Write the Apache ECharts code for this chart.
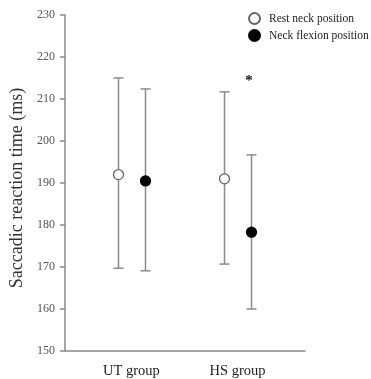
<!DOCTYPE html>
<html>
<head>
<meta charset="utf-8">
<script src="https://cdn.jsdelivr.net/npm/echarts@6/dist/echarts.min.js"></script>
<style>
  html, body { margin: 0; padding: 0; background: #fff; }
  #chart { width: 371px; height: 379px; }
</style>
</head>
<body>
<div id="chart"></div>
<script>
// groups and where they sit on the (hidden) 0-100 x scale
const groups = ['UT group', 'HS group']
const groupPos = [27.7, 71.9]
const yTicks = [150, 160, 170, 180, 190, 200, 210, 220, 230]

// mean, lower and upper end of the bars (ms)
const restMean = [192.0, 191.0]
const restLow = [169.7, 170.7]
const restHigh = [215.0, 211.7]
const flexMean = [190.5, 178.3]
const flexLow = [169.1, 160.0]
const flexHigh = [212.4, 196.7]

// significance mark above HS flexion
const starGroup = 1
const starValue = 215.3

const serif = '"Liberation Serif", "DejaVu Serif", serif'
const OFFSET = 13.5 // px either side of the group centre

function barSeries(name, means, lows, highs, dx, fill, stroke) {
  return {
    name: name,
    type: 'custom',
    itemStyle: { color: fill, borderColor: stroke, borderWidth: 1.3 },
    data: means.map((m, i) => [groupPos[i], m, lows[i], highs[i]]),
    encode: { x: 0, y: [1, 2, 3] },
    z: 3,
    renderItem: function (params, api) {
      const p = api.coord([api.value(0), api.value(1)])
      const lo = api.coord([api.value(0), api.value(2)])
      const hi = api.coord([api.value(0), api.value(3)])
      const x = Math.round(p[0] + dx) + 0.5
      const line = { stroke: '#8a8a8a', lineWidth: 1.5 }
      return {
        type: 'group',
        children: [
          { type: 'line', shape: { x1: x, y1: hi[1], x2: x, y2: lo[1] }, style: line },
          { type: 'line', shape: { x1: x - 5, y1: hi[1], x2: x + 5, y2: hi[1] }, style: line },
          { type: 'line', shape: { x1: x - 5, y1: lo[1], x2: x + 5, y2: lo[1] }, style: line },
          {
            type: 'circle', z2: 10,
            shape: { cx: x, cy: p[1], r: 5 },
            style: { fill: fill, stroke: stroke, lineWidth: 1.3 }
          }
        ]
      }
    }
  }
}

const chart = echarts.init(document.getElementById('chart'), null, { renderer: 'canvas' })
chart.setOption({
  animation: false,
  grid: { left: 63, right: 66, top: 15, bottom: 27 },
  legend: {
    orient: 'vertical',
    left: 243, top: 7,
    itemWidth: 11, itemHeight: 11, itemGap: 4,
    icon: 'circle',
    textStyle: { fontFamily: serif, fontSize: 11.5, color: '#222', padding: [0, 0, 0, 4] },
    data: ['Rest neck position', 'Neck flexion position']
  },
  xAxis: {
    type: 'value', min: 0, max: 100,
    splitLine: { show: false },
    axisLine: { lineStyle: { color: '#8a8a8a', width: 1.5 } },
    axisTick: { show: false },
    axisLabel: {
      customValues: groupPos,
      formatter: v => groups[groupPos.indexOf(v)] || '',
      fontFamily: serif, fontSize: 14.5, color: '#222', margin: 13
    }
  },
  yAxis: {
    type: 'value', min: 150, max: 230, interval: 10,
    name: 'Saccadic reaction time (ms)',
    nameLocation: 'middle', nameGap: 38,
    nameTextStyle: { fontFamily: serif, fontSize: 18, color: '#333', padding: [0, 10, 0, 0] },
    splitLine: { show: false },
    axisLine: { show: true, lineStyle: { color: '#8a8a8a', width: 1.5 } },
    axisTick: { show: true, length: 5, lineStyle: { color: '#8a8a8a', width: 1.5 } },
    axisLabel: {
      customValues: yTicks,
      fontFamily: serif, fontSize: 12, color: '#555', margin: 10
    }
  },
  series: [
    barSeries('Rest neck position', restMean, restLow, restHigh, -OFFSET, '#ffffff', '#666666'),
    barSeries('Neck flexion position', flexMean, flexLow, flexHigh, OFFSET, '#000000', '#000000'),
    {
      type: 'custom',
      silent: true,
      data: [[groupPos[starGroup], starValue]],
      renderItem: function (params, api) {
        const p = api.coord([api.value(0), api.value(1)])
        return {
          type: 'text',
          style: {
            x: p[0] + OFFSET - 2, y: p[1] + 4,
            text: '*', fill: '#111',
            font: 'bold 15px ' + serif,
            align: 'center', verticalAlign: 'middle'
          }
        }
      }
    }
  ]
})
</script>
</body>
</html>
